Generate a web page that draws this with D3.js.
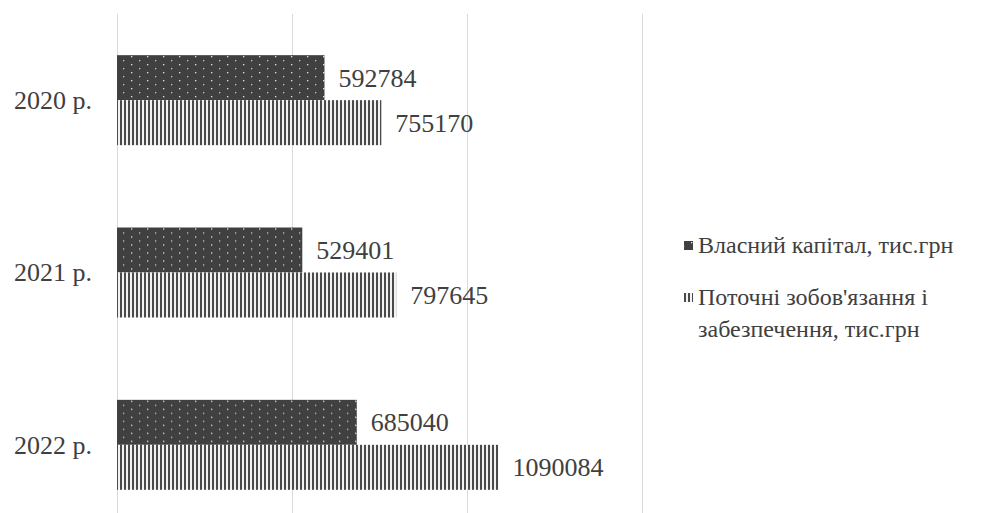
<!DOCTYPE html>
<html>
<head>
<meta charset="utf-8">
<script src="https://cdn.jsdelivr.net/npm/d3@7/dist/d3.min.js"></script>
<style>
  html, body { margin: 0; padding: 0; background: #fff; font-family: "Times New Roman", "Liberation Serif", Tinos, serif; }
  svg { display: block; }
  .lbl { font-family: "Times New Roman", "Liberation Serif", Tinos, serif; }
</style>
</head>
<body>
<div id="fig"></div>
<script>
// Years on the category axis
const categories = ["2020 р.", "2021 р.", "2022 р."];
// Series values, thousands of UAH
const equity = [592784, 529401, 685040];
const liabilities = [755170, 797645, 1090084];
const legendLines = [["Власний капітал, тис.грн"], ["Поточні зобов'язання і", "забезпечення, тис.грн"]];
const gridTicks = [0, 500000, 1000000, 1500000];

const INK = "#404040";

const W = 989, H = 513;
const svg = d3.select("#fig").append("svg").attr("width", W).attr("height", H);

// Fill patterns: dotted dark fill and vertical stripes
const defs = svg.append("defs");
const dots = defs.append("pattern").attr("id", "pat-dots")
  .attr("patternUnits", "userSpaceOnUse").attr("width", 16).attr("height", 8);
dots.append("rect").attr("width", 16).attr("height", 8).attr("fill", "#404040");
dots.append("rect").attr("x", 3).attr("y", 2).attr("width", 1.3).attr("height", 1.3).attr("fill", "#e8e8e8");
dots.append("rect").attr("x", 11).attr("y", 6).attr("width", 1.3).attr("height", 1.3).attr("fill", "#c8c8c8");

const stripes = defs.append("pattern").attr("id", "pat-stripes")
  .attr("patternUnits", "userSpaceOnUse").attr("width", 4).attr("height", 4);
stripes.append("rect").attr("width", 4).attr("height", 4).attr("fill", "#f2f2f2");
stripes.append("rect").attr("x", 0).attr("width", 2).attr("height", 4).attr("fill", "#4a4a4a");

const fills = ["url(#pat-dots)", "url(#pat-stripes)"];

const x = d3.scaleLinear().domain([0, 1500000]).range([117, 642]);
const y = d3.scaleBand().domain(categories).range([14, 531]).padding(0);
const sub = d3.scaleBand().domain([0, 1])
  .range([y.bandwidth() / 2 - 45, y.bandwidth() / 2 + 45]).padding(0);

// Vertical gridlines
svg.append("g").selectAll("line").data(gridTicks).join("line")
  .attr("x1", d => Math.round(x(d)) + 0.5).attr("x2", d => Math.round(x(d)) + 0.5)
  .attr("y1", 14).attr("y2", H)
  .attr("stroke", "#d9d9d9").attr("stroke-width", 1);

const rows = categories.map((c, i) => ({ cat: c, vals: [equity[i], liabilities[i]] }));

const groups = svg.append("g").selectAll("g").data(rows).join("g")
  .attr("transform", d => `translate(0,${y(d.cat)})`);

groups.selectAll("rect").data(d => d.vals.map((v, k) => ({ v, k }))).join("rect")
  .attr("x", x(0))
  .attr("y", d => sub(d.k))
  .attr("width", d => x(d.v) - x(0))
  .attr("height", sub.bandwidth())
  .attr("fill", d => fills[d.k]);

function serif(sel, size) {
  return sel.attr("class", "lbl")
    .style("font-family", d => '"Times New Roman"')
    .attr("font-size", size)
    .attr("fill", INK);
}

groups.selectAll("text.val").data(d => d.vals.map((v, k) => ({ v, k }))).join("text")
  .attr("x", d => x(d.v) + 14)
  .attr("y", d => sub(d.k) + sub.bandwidth() / 2 + 9)
  .call(serif, 26)
  .text(d => d.v);

// Category labels
groups.append("text")
  .attr("x", x(0) - 25)
  .attr("y", y.bandwidth() / 2 + 9)
  .attr("text-anchor", "end")
  .call(serif, 26)
  .text(d => d.cat);

// Legend
const legendY = [245, 297];
const legend = svg.append("g");
legendLines.forEach((lines, k) => {
  legend.append("rect")
    .attr("x", 684).attr("y", legendY[k] - 4).attr("width", 9).attr("height", 9)
    .attr("fill", fills[k]);
  lines.forEach((ln, j) => {
    legend.append("text")
      .attr("x", 698).attr("y", legendY[k] + j * 32 + 8)
      .call(serif, 24)
      .text(ln);
  });
});
</script>
</body>
</html>
